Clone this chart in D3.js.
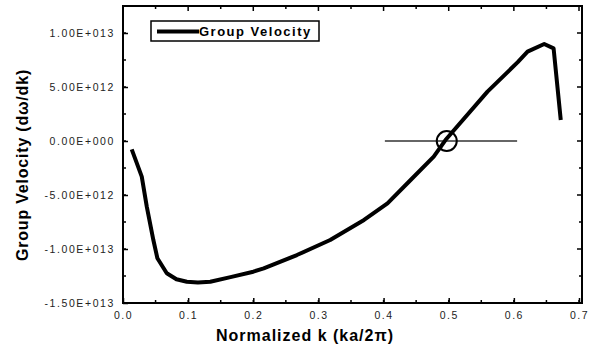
<!DOCTYPE html>
<html>
<head>
<meta charset="utf-8">
<script src="https://cdn.jsdelivr.net/npm/d3@7"></script>
<style>
  body { margin: 0; background: #fff; }
  svg { display: block; }
</style>
</head>
<body>
<div id="grafico"></div>
<script>
// datos (k normalizado, velocidad de grupo en 1e12)
const kValores = [0.0134, 0.0288, 0.0365, 0.0466, 0.0528, 0.0672, 0.082, 0.098, 0.115, 0.134,
  0.165, 0.2, 0.216, 0.267, 0.318, 0.37, 0.406, 0.4415, 0.477, 0.495, 0.5595, 0.606, 0.621,
  0.6466, 0.661, 0.672];
const velocidades = [-0.77, -3.3, -6.08, -9.17, -10.86, -12.25, -12.8, -13.03, -13.1, -13.03,
  -12.6, -12.1, -11.79, -10.56, -9.17, -7.31, -5.77, -3.61, -1.45, 0.09, 4.57, 7.3, 8.27,
  8.98, 8.58, 1.94];
const ticksX = [0, 0.1, 0.2, 0.3, 0.4, 0.5, 0.6, 0.7];
const ticksY = [-15, -10, -5, 0, 5, 10];
const etiquetasY = ["-1.50E+013", "-1.00E+013", "-5.00E+012", "0.00E+000", "5.00E+012", "1.00E+013"];
const lineaHorizontal = [0.402, 0.605]; // marca horizontal en v = 0
const puntoCruce = [0.497, 0];

const ancho = 595, alto = 353;
const margen = { left: 123, right: 15, top: 6, bottom: 50 };

const x = d3.scaleLinear().domain([0, 0.7]).range([margen.left, 579]);
const y = d3.scaleLinear().domain([-15, 12.5]).range([alto - margen.bottom, margen.top]);

const $svg = d3.select("#grafico")
  .append("svg")
  .attr("width", ancho)
  .attr("height", alto)
  .style("font-family", "Arial, 'Liberation Sans', sans-serif");

$svg.append("rect").attr("width", ancho).attr("height", alto).attr("fill", "#fff");

const x0 = x.range()[0], x1 = 582, y0 = y.range()[0], y1 = y.range()[1];

// ticks menores y mayores, hacia adentro en los cuatro lados
const ticksXmenores = d3.range(0, 0.701, 0.05);
const ticksYmenores = d3.range(-15, 12.6, 2.5);

const ejeAbajo = d3.axisBottom(x).tickValues(ticksX).tickSize(-5).tickFormat(d3.format(".1f"));
const gAbajo = $svg.append("g").attr("transform", `translate(0,${y0})`).call(ejeAbajo);
gAbajo.selectAll("text").attr("dy", "1.1em").attr("y", 4).attr("font-size", 10.5)
  .attr("letter-spacing", 1.5).attr("fill", "#222");

const ejeIzq = d3.axisLeft(y).tickValues(ticksY).tickSize(-5)
  .tickFormat((d, i) => etiquetasY[i]);
const gIzq = $svg.append("g").attr("transform", `translate(${x0},0)`).call(ejeIzq);
gIzq.selectAll("text").attr("x", -8).attr("font-size", 10.5)
  .attr("letter-spacing", 1.6).attr("fill", "#222");

[gAbajo, gIzq].forEach(g => {
  g.select(".domain").remove();
  g.selectAll("line").attr("stroke", "#000").attr("stroke-width", 1.5);
});

// menores abajo / arriba
$svg.append("g").selectAll("line").data(ticksXmenores).join("line")
  .attr("x1", d => x(d)).attr("x2", d => x(d))
  .attr("y1", y0).attr("y2", y0 - 3)
  .attr("stroke", "#000").attr("stroke-width", 1.5);
$svg.append("g").selectAll("line").data(ticksXmenores).join("line")
  .attr("x1", d => x(d)).attr("x2", d => x(d))
  .attr("y1", y1).attr("y2", d => y1 + (ticksX.some(t => Math.abs(t - d) < 1e-6) ? 5 : 3))
  .attr("stroke", "#000").attr("stroke-width", 1.5);
// menores izquierda / derecha
$svg.append("g").selectAll("line").data(ticksYmenores).join("line")
  .attr("x1", x0).attr("x2", x0 + 3)
  .attr("y1", d => y(d)).attr("y2", d => y(d))
  .attr("stroke", "#000").attr("stroke-width", 1.5);
$svg.append("g").selectAll("line").data(ticksYmenores).join("line")
  .attr("x1", x1).attr("x2", d => x1 - (ticksY.includes(d) ? 5 : 3))
  .attr("y1", d => y(d)).attr("y2", d => y(d))
  .attr("stroke", "#000").attr("stroke-width", 1.5);

// marco
$svg.append("rect")
  .attr("x", x0).attr("y", y1)
  .attr("width", x1 - x0).attr("height", y0 - y1)
  .attr("fill", "none").attr("stroke", "#000").attr("stroke-width", 2);

// linea horizontal y circulo
$svg.append("line")
  .attr("x1", x(lineaHorizontal[0])).attr("x2", x(lineaHorizontal[1]))
  .attr("y1", y(0)).attr("y2", y(0))
  .attr("stroke", "#333").attr("stroke-width", 1.5);

const datos = kValores.map((k, i) => [k, velocidades[i]]);
const linea = d3.line().x(d => x(d[0])).y(d => y(d[1]));
$svg.append("path")
  .attr("d", linea(datos))
  .attr("fill", "none")
  .attr("stroke", "#000")
  .attr("stroke-width", 4)
  .attr("stroke-linejoin", "round");

$svg.append("circle")
  .attr("cx", x(puntoCruce[0])).attr("cy", y(puntoCruce[1]))
  .attr("r", 10)
  .attr("fill", "none").attr("stroke", "#000").attr("stroke-width", 2);

// leyenda
const gLeyenda = $svg.append("g");
gLeyenda.append("rect")
  .attr("x", 151).attr("y", 21).attr("width", 168).attr("height", 20)
  .attr("fill", "#fff").attr("stroke", "#000").attr("stroke-width", 1.5);
gLeyenda.append("line")
  .attr("x1", 157).attr("x2", 199).attr("y1", 31.5).attr("y2", 31.5)
  .attr("stroke", "#000").attr("stroke-width", 4);
gLeyenda.append("text")
  .attr("x", 199).attr("y", 36)
  .attr("font-size", 13).attr("font-weight", "bold")
  .attr("letter-spacing", 1.5)
  .text("Group Velocity");

// titulos
$svg.append("text")
  .attr("x", 305).attr("y", 341)
  .attr("text-anchor", "middle")
  .attr("font-size", 16).attr("font-weight", "bold")
  .attr("letter-spacing", 1)
  .text("Normalized k (ka/2π)");

$svg.append("text")
  .attr("transform", `translate(28,165) rotate(-90)`)
  .attr("text-anchor", "middle")
  .attr("font-size", 16).attr("font-weight", "bold")
  .attr("letter-spacing", 0.8)
  .text("Group Velocity (dω/dk)");
</script>
</body>
</html>
